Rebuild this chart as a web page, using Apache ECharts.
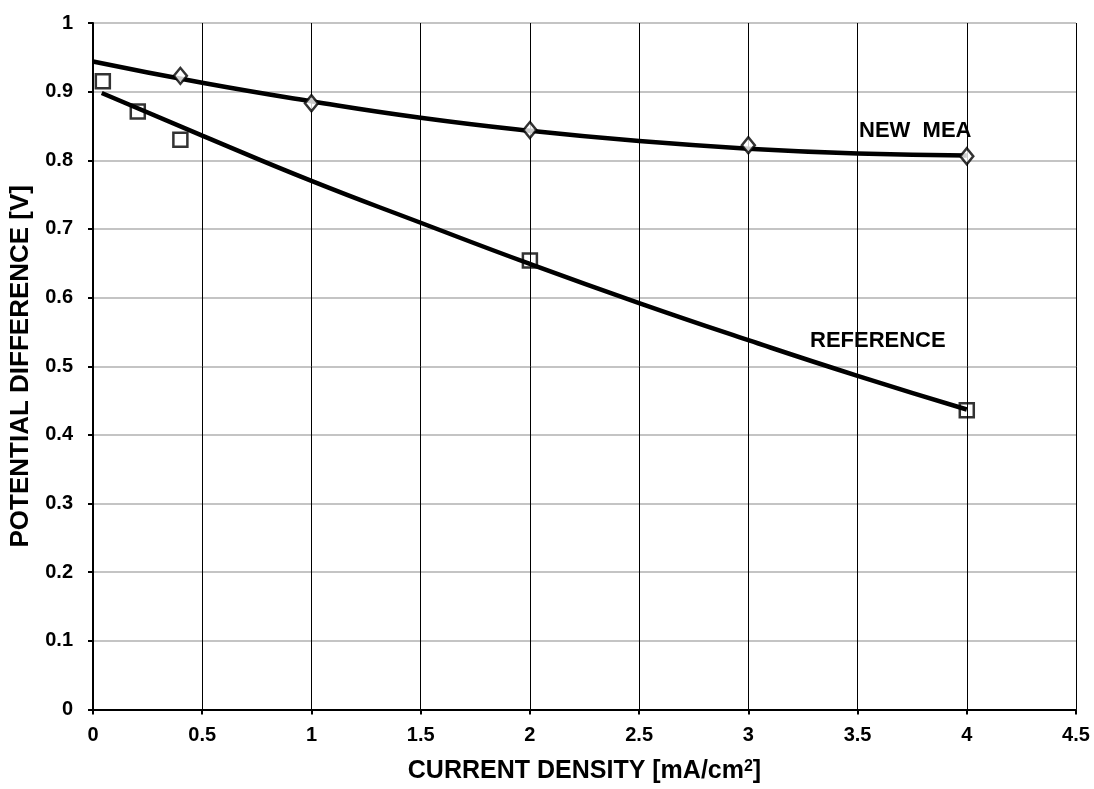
<!DOCTYPE html>
<html>
<head>
<meta charset="utf-8">
<script src="https://cdn.jsdelivr.net/npm/echarts@6/dist/echarts.min.js"></script>
<style>
  html, body { margin: 0; padding: 0; background: #fff; }
  #chart { width: 1094px; height: 789px; }
</style>
</head>
<body>
<div id="chart"></div>
<script>
// Measured points
var newMeaX = [0.4, 1, 2, 3, 4];
var newMeaY = [0.923, 0.883, 0.844, 0.822, 0.806];
var refX = [0.045, 0.205, 0.4, 2, 4];
var refY = [0.915, 0.871, 0.830, 0.654, 0.436];
// Trend lines
var newMeaTrendX = [0, 0.5, 1, 1.5, 2, 2.5, 3, 3.5, 4];
var newMeaTrendY = [0.944, 0.913, 0.886, 0.862, 0.843, 0.828, 0.817, 0.810, 0.807];
var refTrendX = [0.04, 0.5, 1, 1.5, 2, 2.5, 3, 3.5, 4];
var refTrendY = [0.898, 0.836, 0.770, 0.709, 0.649, 0.592, 0.538, 0.486, 0.437];
var labelNewMea = 'NEW  MEA';
var labelRef = 'REFERENCE';

function zip(a, b) { return a.map(function (v, i) { return [v, b[i]]; }); }

var font = '"Liberation Sans", Arial, sans-serif';
var chart = echarts.init(document.getElementById('chart'), null, { renderer: 'canvas' });
chart.setOption({
  animation: false,
  backgroundColor: '#ffffff',
  grid: { left: 93, right: 18, top: 23, bottom: 76, containLabel: false },
  xAxis: {
    type: 'value', min: 0, max: 4.5, interval: 0.5,
    name: '{t|CURRENT DENSITY [mA/cm}{s|2}{t|]}',
    nameLocation: 'middle', nameGap: 49,
    nameTextStyle: {
      rich: {
        t: { fontFamily: font, fontWeight: 'bold', fontSize: 25, color: '#000' },
        s: { fontFamily: font, fontWeight: 'bold', fontSize: 16, color: '#000', verticalAlign: 'top', padding: [0, 0, 10, 0] }
      }
    },
    axisLine: { show: true, onZero: false, lineStyle: { color: '#000', width: 2 } },
    axisTick: { show: true, length: 5, lineStyle: { color: '#000', width: 2 } },
    axisLabel: { fontFamily: font, fontWeight: 'bold', fontSize: 20, color: '#000', margin: 16 },
    splitLine: { show: true, lineStyle: { color: '#000', width: 1 } }
  },
  yAxis: {
    type: 'value', min: 0, max: 1, interval: 0.1,
    name: 'POTENTIAL DIFFERENCE [V]',
    nameLocation: 'middle', nameGap: 56, nameRotate: 90,
    nameTextStyle: { fontFamily: font, fontWeight: 'bold', fontSize: 26, color: '#000' },
    axisLine: { show: true, onZero: false, lineStyle: { color: '#000', width: 2 } },
    axisTick: { show: true, length: 5, lineStyle: { color: '#000', width: 2 } },
    axisLabel: { fontFamily: font, fontWeight: 'bold', fontSize: 20, color: '#000', margin: 20 },
    splitLine: { show: true, lineStyle: { color: '#c4c4c4', width: 2 } }
  },
  series: [
    {
      type: 'line', data: zip(newMeaTrendX, newMeaTrendY), smooth: true,
      showSymbol: false, symbol: 'none',
      lineStyle: { color: '#000', width: 4.5 }, z: 2
    },
    {
      type: 'line', data: zip(refTrendX, refTrendY), smooth: true,
      showSymbol: false, symbol: 'none',
      lineStyle: { color: '#000', width: 4.5 }, z: 2
    },
    {
      type: 'scatter', data: zip(newMeaX, newMeaY), symbol: 'diamond', symbolSize: [13, 16],
      itemStyle: { color: '#fff', borderColor: '#000', borderWidth: 2.5 }, z: 3
    },
    {
      type: 'scatter', data: zip(refX, refY), symbol: 'rect', symbolSize: 14,
      itemStyle: { color: 'rgba(255,255,255,0)', borderColor: '#000', borderWidth: 2.5 }, z: 3
    }
  ],
  graphic: [
    { type: 'text', left: 859, top: 120, style: { text: labelNewMea, fontFamily: font, fontWeight: 'bold', fontSize: 22, fill: '#000' } },
    { type: 'text', left: 810, top: 330, style: { text: labelRef, fontFamily: font, fontWeight: 'bold', fontSize: 22, fill: '#000' } }
  ]
});
</script>
</body>
</html>
